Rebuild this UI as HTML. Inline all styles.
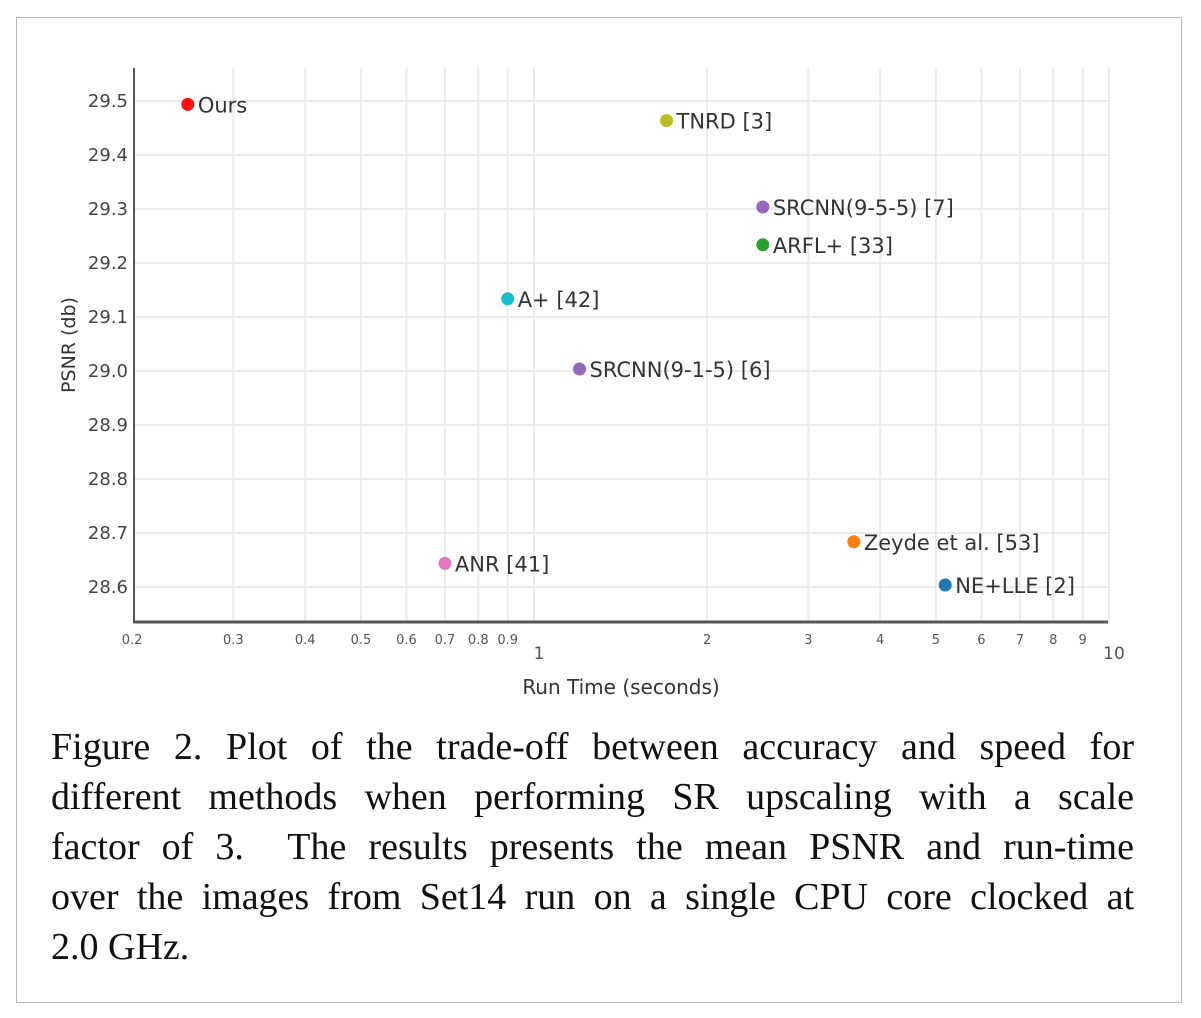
<!DOCTYPE html>
<html><head><meta charset="utf-8">
<style>
body{margin:0;background:#fff;width:1201px;height:1018px;overflow:hidden;position:relative;font-family:"DejaVu Sans","Liberation Sans",sans-serif}
#frame{position:absolute;left:16px;top:17px;width:1166px;height:986px;border:1px solid #bbb;box-sizing:border-box}
#caption{position:absolute;left:51px;top:722px;width:1083px;font-family:"Liberation Serif",serif;font-size:38px;line-height:50px;color:#111}
#caption div{text-align:justify;text-align-last:justify;white-space:nowrap}
#caption div.last{text-align-last:left}
</style></head><body>
<div id="frame"></div>
<svg id="chart" width="1201" height="720" style="position:absolute;left:0;top:0"></svg>
<div id="caption">
<div>Figure 2. Plot of the trade-off between accuracy and speed for</div>
<div>different methods when performing SR upscaling with a scale</div>
<div>factor of 3.&nbsp; The results presents the mean PSNR and run-time</div>
<div>over the images from Set14 run on a single CPU core clocked at</div>
<div class="last">2.0 GHz.</div>
</div>
<script>
const names=["Ours","TNRD [3]","SRCNN(9-5-5) [7]","ARFL+ [33]","A+ [42]","SRCNN(9-1-5) [6]","ANR [41]","Zeyde et al. [53]","NE+LLE [2]"];
const times=[0.25,1.70,2.5,2.5,0.90,1.2,0.70,3.6,5.19];
const psnr=[29.49,29.46,29.30,29.23,29.13,29.00,28.64,28.68,28.60];
const colors=["#ff1010","#bcbd22","#9467bd","#2ca02c","#17becf","#9467bd","#e377c2","#ff7f0e","#1f77b4"];
const yTicks=[28.6,28.7,28.8,28.9,29.0,29.1,29.2,29.3,29.4,29.5];
const xTicks=[0.2,0.3,0.4,0.5,0.6,0.7,0.8,0.9,1,2,3,4,5,6,7,8,9,10];
const xLabels=["0.2","0.3","0.4","0.5","0.6","0.7","0.8","0.9","1","2","3","4","5","6","7","8","9","10"];
const NS="http://www.w3.org/2000/svg",svg=document.getElementById('chart');
const X=v=>534+575*Math.log10(v);
const Y=v=>587-(v-28.6)*540;
function mk(t,a,txt){const e=document.createElementNS(NS,t);for(const k in a)e.setAttribute(k,a[k]);if(txt!==undefined)e.textContent=txt;svg.appendChild(e);return e;}
const L=134,R=1108,T=68,B=622;
yTicks.forEach(v=>{
 const g=mk('line',{x1:L,x2:R,y1:Y(v),y2:Y(v),stroke:'#ececec','stroke-width':2});
 
 
 const t=mk('text',{x:128,y:Y(v)+6,'text-anchor':'end','font-size':18,fill:'#444'},v.toFixed(1));
 
 
});
xTicks.forEach((v,i)=>{
 if(i>0){const g=mk('line',{x1:X(v),x2:X(v),y1:T,y2:B,stroke:'#ececec','stroke-width':2});
 
 }
 const big=(xLabels[i]==="1"||xLabels[i]==="10");
 const t=mk('text',{x:X(v)+(big?5:0),y:big?659:644,'text-anchor':'middle','font-size':big?17:13,fill:'#555'},xLabels[i]);
 
 
});
const ya=mk('line',{x1:L,x2:L,y1:T,y2:B+1,stroke:'#555','stroke-width':2});


const xa=mk('line',{x1:L-1,x2:R,y1:B,y2:B,stroke:'#555','stroke-width':3});


names.forEach((n,i)=>{
 const c=mk('circle',{cx:X(times[i]),cy:Y(psnr[i])-2,r:6.5,fill:colors[i]});
 
 
 const t=mk('text',{x:X(times[i])+10,y:Y(psnr[i])+6,'font-size':21,fill:'#333'},n);
 
 
});
const yt=mk('text',{x:0,y:0,transform:'translate(75,345) rotate(-90)','text-anchor':'middle','font-size':19,fill:'#333'},'PSNR (db)');


const xt=mk('text',{x:621,y:694,'text-anchor':'middle','font-size':20,fill:'#333'},'Run Time (seconds)');


</script>
</body></html>
